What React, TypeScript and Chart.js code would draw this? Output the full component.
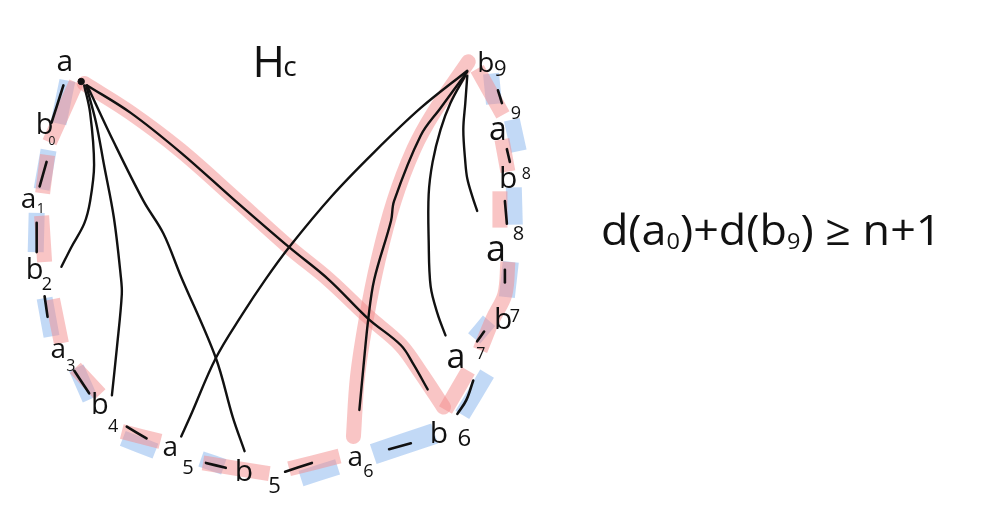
import { useEffect, useRef } from "react";
import { Chart, registerables } from "chart.js";

Chart.register(...registerables);

type P = [number, number];

// ---- black chords (edges of H_c) ----
const edgeA_b2: P[] = [[80, 82], [86, 110], [90, 163], [86, 200], [80, 223], [67, 247], [57, 267]];
const edgeA_b4: P[] = [[82, 82], [92, 120], [100, 163], [110, 217], [117, 277], [118, 295], [113, 350], [108, 398]];
const edgeA_b5: P[] = [[83, 82], [110, 140], [140, 200], [160, 233], [177, 275], [213, 360], [230, 420], [242, 455]];
const edgeA_b6: P[] = [[83, 82], [127, 110], [177, 150], [233, 200], [287, 247], [327, 280], [367, 320], [400, 347], [413, 367], [427, 392]];
const edgeB9_a5: P[] = [[467, 67], [420, 105], [373, 150], [330, 195], [287, 247], [263, 280], [240, 315], [213, 360], [187, 420], [178, 440]];
const edgeB9_a6: P[] = [[467, 68], [440, 105], [420, 133], [393, 200], [390, 220], [373, 280], [367, 320], [362, 370], [358, 413]];
const edgeB9_a7: P[] = [[465, 72], [450, 100], [440, 127], [432, 160], [428, 193], [428, 240], [430, 287], [437, 315], [445, 337]];
const edgeB9_a8: P[] = [[467, 72], [465, 100], [463, 127], [465, 160], [467, 177], [472, 195], [477, 210]];

// ---- short cycle edges (black dashes) ----
const cycleEdges: P[][] = [
  [[59, 82], [47, 120]],
  [[42, 160], [35, 185]],
  [[32, 222], [32, 252]],
  [[40, 297], [43, 318]],
  [[70, 373], [85, 396]],
  [[123, 430], [143, 442]],
  [[203, 467], [223, 472]],
  [[283, 476], [310, 467]],
  [[388, 453], [410, 447]],
  [[457, 417], [466, 403], [473, 383]],
  [[477, 343], [484, 333]],
  [[505, 270], [505, 283]],
  [[505, 200], [507, 223]],
  [[507, 147], [510, 160]],
  [[498, 87], [502, 100]],
];

// ---- pink highlighted path ----
const pinkCycle: P[][] = [
  [[72, 79], [45, 140]],
  [[43, 153], [38, 192]],
  [[37, 215], [40, 262]],
  [[48, 300], [57, 345]],
  [[71, 370], [96, 397]],
  [[118, 435], [157, 445]],
  [[200, 467], [267, 478]],
  [[287, 473], [338, 460]],
  [[445, 413], [468, 373]],
  [[480, 352], [493, 320], [505, 295], [508, 262]],
  [[500, 190], [500, 227]],
  [[502, 137], [508, 170]],
  [[477, 65], [503, 112]],
];
const pinkChordA: P[] = [[80, 80], [127, 110], [177, 148], [233, 198], [287, 247], [327, 280], [367, 318], [400, 347], [420, 375], [443, 410]];
const pinkChordB9: P[] = [[468, 58], [433, 110], [413, 147], [393, 200], [377, 260], [365, 320], [356, 380], [352, 440]];

// ---- blue highlighted path ----
const blueCycle: P[][] = [
  [[63, 77], [54, 121]],
  [[44, 148], [37, 188]],
  [[32, 212], [31, 252]],
  [[40, 299], [47, 338]],
  [[72, 370], [86, 402]],
  [[119, 442], [152, 455]],
  [[198, 463], [221, 471]],
  [[299, 483], [336, 471]],
  [[462, 418], [487, 376]],
  [[474, 340], [489, 322]],
  [[511, 262], [507, 298]],
  [[514, 186], [515, 224]],
  [[512, 117], [519, 149]],
  [[491, 70], [494, 101]],
];
const blueWide: P[] = [[372, 458], [434, 437]];

const vertexA: P[] = [[77, 78]];

// ---- labels ----
const labelMain = ["a", "b", "a", "b", "a", "b", "a", "b", "a", "b", "a", "b", "a", "b", "a", "b", "H"];
const labelSub = ["", "0", "1", "2", "3", "4", "5", "5", "6", "6", "7", "7", "8", "8", "9", "9", "c"];
const labelX = [52, 31, 16, 21, 46, 87, 159, 232, 346, 429, 446, 494, 486, 499, 489, 477, 250];
const labelY = [67, 132, 207, 279, 360, 417, 460, 485, 470, 447, 370, 330, 261, 187, 138, 68, 73];
const subX = [0, 44, 32, 37, 62, 104, 179, 266, 362, 457, 476, 510, 513, 522, 511, 494, 281];
const subY = [0, 143, 212, 291, 373, 435, 478, 498, 481, 450, 361, 323, 240, 177, 116, 72, 72];

const formulaParts = ["d(a", "0", ")+d(b", "9", ") \u2265 n+1"];
const formulaIsSub = [false, true, false, true, false];
const formulaStartX = 602;
const formulaEndX = 946;
const formulaBaseY = 245;

const INK = "#111111";
const PINK = "rgba(244,140,140,0.5)";
const BLUE = "rgba(120,170,235,0.45)";
const FONT = '"Open Sans", "DejaVu Sans", sans-serif';
const mainSize = [30, 29, 28, 29, 28, 29, 28, 30, 28, 30, 34, 30, 36, 30, 32, 28, 44];
const subSize = [0, 12, 14, 18, 16, 18, 20, 22, 18, 24, 16, 18, 20, 16, 18, 22, 28];

const toPts = (p: P[]) => p.map(([x, y]) => ({ x, y }));

export default function App() {
  const ref = useRef<HTMLCanvasElement | null>(null);

  useEffect(() => {
    if (!ref.current) return;
    const datasets: any[] = [];
    const black = (pts: P[], w = 2.4, tension = 0.35) =>
      datasets.push({
        data: toPts(pts), borderColor: INK, borderWidth: w, pointRadius: 0,
        tension, cubicInterpolationMode: "default", borderCapStyle: "round",
        borderJoinStyle: "round", fill: false, order: 0,
      });
    const thick = (pts: P[], color: string, w: number, order: number, cap = "butt") =>
      datasets.push({
        data: toPts(pts), borderColor: color, borderWidth: w, pointRadius: 0,
        tension: 0.35, borderCapStyle: cap, borderJoinStyle: "round", fill: false, order,
      });

    [edgeA_b2, edgeA_b4, edgeA_b5, edgeA_b6, edgeB9_a5, edgeB9_a6, edgeB9_a7, edgeB9_a8].forEach((e) => black(e));
    cycleEdges.forEach((e) => black(e, 2.6));
    pinkCycle.forEach((e) => thick(e, PINK, 15, 1));
    thick(pinkChordA, PINK, 15, 1, "round");
    thick(pinkChordB9, PINK, 15, 1, "round");
    blueCycle.forEach((e) => thick(e, BLUE, 16, 2));
    thick(blueWide, BLUE, 21, 2);
    datasets.push({
      data: toPts(vertexA), borderColor: INK, backgroundColor: INK, pointRadius: 3.2,
      showLine: false, order: 0,
    });

    const textPlugin = {
      id: "handText",
      afterDatasetsDraw(chart: any) {
        const { ctx } = chart;
        const xs = chart.scales.x;
        const ys = chart.scales.y;
        ctx.save();
        ctx.fillStyle = INK;
        ctx.textBaseline = "alphabetic";
        ctx.textAlign = "left";
        labelMain.forEach((t, i) => {
          ctx.font = `${mainSize[i]}px ${FONT}`;
          ctx.fillText(t, xs.getPixelForValue(labelX[i]), ys.getPixelForValue(labelY[i]));
          if (labelSub[i]) {
            ctx.font = `${subSize[i]}px ${FONT}`;
            ctx.fillText(labelSub[i], xs.getPixelForValue(subX[i]), ys.getPixelForValue(subY[i]));
          }
        });
        // formula
        const big = 42;
        const small = 22;
        const widths = formulaParts.map((p, i) => {
          ctx.font = `${formulaIsSub[i] ? small : big}px ${FONT}`;
          return ctx.measureText(p).width;
        });
        const total = widths.reduce((a, b) => a + b, 0);
        const x0 = xs.getPixelForValue(formulaStartX);
        const x1 = xs.getPixelForValue(formulaEndX);
        const by = ys.getPixelForValue(formulaBaseY);
        const k = (x1 - x0) / total;
        ctx.translate(x0, by);
        ctx.scale(k, 1);
        let cx = 0;
        formulaParts.forEach((p, i) => {
          ctx.font = `${formulaIsSub[i] ? small : big}px ${FONT}`;
          ctx.fillText(p, cx, formulaIsSub[i] ? 4 : 0);
          cx += widths[i];
        });
        ctx.restore();
      },
    };

    const chart = new Chart(ref.current, {
      type: "line",
      data: { datasets },
      options: {
        animation: false,
        responsive: false,
        devicePixelRatio: 1,
        layout: { padding: 0 },
        events: [],
        plugins: { legend: { display: false }, tooltip: { enabled: false } },
        scales: {
          x: { type: "linear", min: 0, max: 989, display: false },
          y: { type: "linear", min: 0, max: 515, reverse: true, display: false },
        },
      },
      plugins: [textPlugin],
    });
    return () => chart.destroy();
  }, []);

  return (
    <div style={{ position: "absolute", left: 0, top: 0, width: 989, height: 515, background: "#fff" }}>
      <canvas ref={ref} width={989} height={515} />
    </div>
  );
}
